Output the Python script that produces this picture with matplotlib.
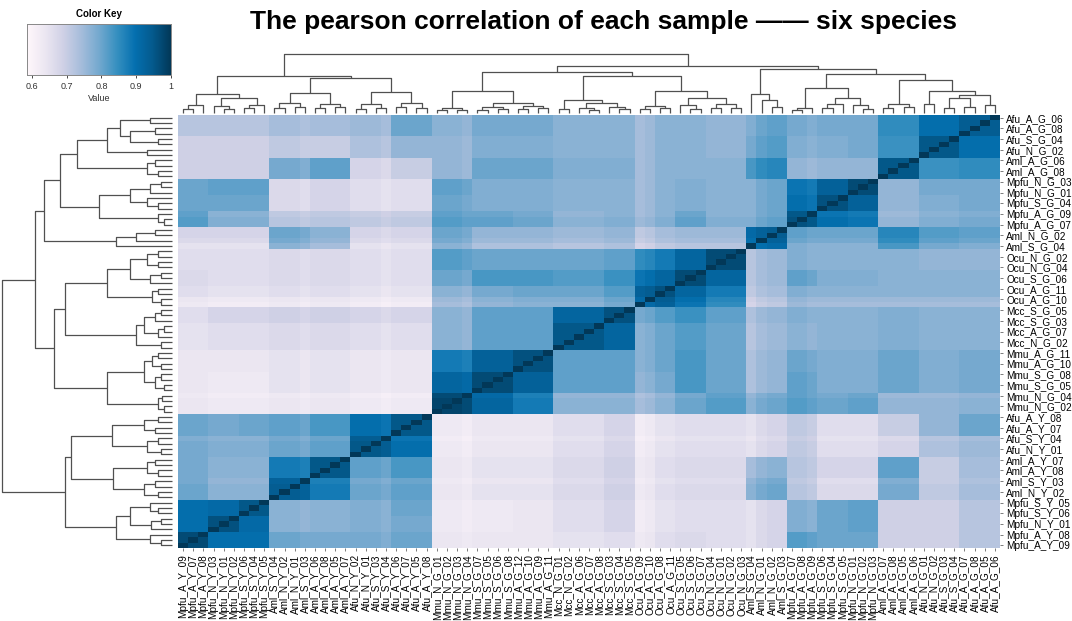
import numpy as np
import matplotlib
matplotlib.use("Agg")
import matplotlib.pyplot as plt

plt.rcParams['font.family'] = ['Liberation Sans', 'DejaVu Sans']

# sample order along the columns (rows use the same order, reversed)
samples = [
    "Mpfu_A_Y_09", "Mpfu_A_Y_07", "Mpfu_A_Y_08", "Mpfu_N_Y_03", "Mpfu_N_Y_01", "Mpfu_N_Y_02",
    "Mpfu_S_Y_06", "Mpfu_S_Y_04", "Mpfu_S_Y_05", "Aml_S_Y_04", "Aml_N_Y_02", "Aml_N_Y_01",
    "Aml_S_Y_03", "Aml_A_Y_06", "Aml_A_Y_08", "Aml_A_Y_05", "Aml_A_Y_07", "Afu_N_Y_02",
    "Afu_N_Y_01", "Afu_S_Y_03", "Afu_S_Y_04", "Afu_A_Y_06", "Afu_A_Y_07", "Afu_A_Y_05",
    "Afu_A_Y_08", "Mmu_N_G_01", "Mmu_N_G_02", "Mmu_N_G_03", "Mmu_N_G_04", "Mmu_S_G_07",
    "Mmu_S_G_05", "Mmu_S_G_06", "Mmu_S_G_08", "Mmu_A_G_12", "Mmu_A_G_10", "Mmu_A_G_09",
    "Mmu_A_G_11", "Mcc_N_G_01", "Mcc_N_G_02", "Mcc_A_G_06", "Mcc_A_G_07", "Mcc_A_G_08",
    "Mcc_S_G_03", "Mcc_S_G_04", "Mcc_S_G_05", "Ocu_A_G_09", "Ocu_A_G_10", "Ocu_A_G_08",
    "Ocu_A_G_11", "Ocu_S_G_05", "Ocu_S_G_06", "Ocu_S_G_07", "Ocu_N_G_04", "Ocu_N_G_01",
    "Ocu_N_G_02", "Ocu_N_G_03", "Aml_S_G_04", "Aml_N_G_01", "Aml_N_G_02", "Aml_S_G_03",
    "Mpfu_A_G_07", "Mpfu_A_G_08", "Mpfu_A_G_09", "Mpfu_S_G_06", "Mpfu_S_G_04", "Mpfu_S_G_05",
    "Mpfu_N_G_01", "Mpfu_N_G_02", "Mpfu_N_G_03", "Aml_A_G_07", "Aml_A_G_08", "Aml_A_G_05",
    "Aml_A_G_06", "Afu_N_G_01", "Afu_N_G_02", "Afu_S_G_03", "Afu_S_G_04", "Afu_A_G_07",
    "Afu_A_G_08", "Afu_A_G_05", "Afu_A_G_06",
]

# sample groups (consecutive in the order above) and their sizes
group_names = ["MpfuY_A", "MpfuY_N", "MpfuY_S", "AmlY_SN", "AmlY_A", "AfuY_NS", "AfuY_A",
               "Mmu_N", "Mmu_S", "Mmu_A", "Mcc_NA", "Mcc_S", "Ocu_A", "Ocu_S", "Ocu_N",
               "AmlG_SN", "MpfuG_A", "MpfuG_S", "MpfuG_N", "AmlG_A", "AfuG_NS", "AfuG_A"]
group_sizes = [3, 3, 3, 4, 4, 4, 4, 4, 4, 4, 5, 3, 4, 3, 4, 4, 3, 3, 3, 4, 4, 4]

# estimated mean correlation between groups (upper triangle, row i gives j = i..21)
block_upper = [
    [.97, .90, .90, .80, .79, .79, .80, .64, .64, .64, .65, .66, .66, .67, .66, .68, .82, .80, .80, .69, .69, .72],
    [.96, .91, .77, .77, .78, .79, .63, .63, .64, .66, .68, .65, .66, .66, .68, .78, .80, .81, .69, .69, .72],
    [.95, .77, .77, .78, .80, .63, .63, .64, .66, .68, .65, .66, .66, .68, .78, .80, .81, .69, .69, .72],
    [.94, .88, .80, .81, .64, .65, .65, .67, .69, .66, .67, .67, .80, .72, .67, .67, .79, .71, .74],
    [.95, .81, .83, .64, .65, .65, .67, .69, .66, .67, .67, .77, .72, .68, .68, .81, .70, .74],
    [.95, .90, .63, .64, .64, .66, .68, .65, .66, .66, .68, .71, .66, .66, .68, .73, .75],
    [.95, .63, .64, .64, .66, .68, .65, .66, .66, .68, .71, .66, .66, .70, .76, .80],
    [.98, .92, .88, .77, .77, .77, .80, .82, .80, .82, .80, .81, .76, .76, .77],
    [.97, .93, .81, .81, .79, .83, .80, .76, .81, .78, .78, .80, .78, .79],
    [.96, .81, .81, .80, .83, .80, .76, .80, .78, .78, .80, .78, .79],
    [.95, .92, .80, .82, .80, .75, .77, .77, .77, .78, .77, .77],
    [.96, .82, .84, .81, .76, .78, .77, .77, .78, .77, .77],
    [.96, .92, .88, .74, .78, .77, .77, .77, .77, .77],
    [.97, .92, .75, .81, .78, .78, .77, .77, .77],
    [.97, .75, .78, .77, .77, .77, .76, .76],
    [.94, .81, .80, .80, .86, .82, .81],
    [.96, .90, .89, .76, .78, .79],
    [.96, .93, .76, .78, .79],
    [.97, .76, .79, .79],
    [.95, .84, .85],
    [.95, .90],
    [.94],
]

# per-sample lightening (streaky samples)
sample_shift = np.zeros(81)
sample_shift[[45, 46, 56, 57, 20, 12, 62, 28]] = [.03, .02, .03, .01, .01, .01, .01, .01]

# clustering tree: [height, left, right]; leaves are sample indices
mpfu_y = [20, [8, [4, 0, 1], 2], [15, [7.5, 3, [4, 4, 5]], [8, [5, 6, 7], 8]]]
aml_y = [21, [10, [5, 9, 10], [6, 11, 12]], [9, [5, 13, 14], [6, 15, 16]]]
afu_y = [21.5, [9, [4, 17, 18], [5, 19, 20]], [10, [6, 21, 22], [5, 23, 24]]]
mmu_g = [23, [5, [3, 25, 26], [3.5, 27, 28]], [10, [6, [3, 29, 30], [4, 31, 32]], [7, [4, 33, 34], [5, 35, 36]]]]
mcc_g = [13, [4, 37, 38], [10, [5, 39, [3, 40, 41]], [6, 42, [4, 43, 44]]]]
ocu_g = [23, [7, [4, 45, 46], [5, 47, 48]], [15, [8, 49, [4, 50, 51]], [9, [5, 52, 53], [5, 54, 55]]]]
aml_g_sn = [20, 56, [13, 57, [6, 58, 59]]]
mpfu_g = [26, [5, [3, 60, 61], 62], [15, [9, [5, 63, 64], 65], [8, 66, [4, 67, 68]]]]
aml_g_a = [9, [5, 69, 70], [6, 71, 72]]
afu_g = [23, [9, 73, 74], [18.5, [15, [5, 75, 76], [6, 77, 78]], [8, 79, 80]]]
tree = [60.7,
        [38, mpfu_y, [36, aml_y, afu_y]],
        [49, [42, mmu_g, [38, mcc_g, ocu_g]],
             [45.7, aml_g_sn, [40, mpfu_g, [34, aml_g_a, afu_g]]]]]

# ---- build the matrix
n = len(samples)
block = np.zeros((len(group_sizes), len(group_sizes)))
for i, row in enumerate(block_upper):
    for k, v in enumerate(row):
        block[i, i + k] = v
        block[i + k, i] = v
grp = np.repeat(np.arange(len(group_sizes)), group_sizes)
corr = block[grp][:, grp] - sample_shift[:, None] - sample_shift[None, :]
np.fill_diagonal(corr, 1.0)
vmin, vmax = 0.586, 1.0
corr = np.clip(corr, vmin, vmax)

W, H = 1072, 621
fig = plt.figure(figsize=(W / 100, H / 100), dpi=100)

def px(x0, y0, x1, y1):
    return [x0 / W, 1 - y1 / H, (x1 - x0) / W, (y1 - y0) / H]

hm_x0, hm_y0, hm_x1, hm_y1 = 178, 115, 1000, 548
ax = fig.add_axes(px(hm_x0, hm_y0, hm_x1, hm_y1))
ax.imshow(corr[::-1, :], cmap='PuBu', vmin=vmin, vmax=vmax, aspect='auto',
          interpolation='nearest', extent=(0, n, n, 0))
ax.set_xticks(np.arange(n) + 0.5)
ax.set_xticklabels(samples, rotation=90, fontsize=7.2)
rows_lab = np.arange(0, n, 2)
ax.yaxis.tick_right()
ax.set_yticks(rows_lab + 0.5)
ax.set_yticklabels([samples[n - 1 - r] for r in rows_lab], fontsize=7.2)
ax.tick_params(length=2, width=0.6, color='#666666', pad=2.5)
for s in ax.spines.values():
    s.set_visible(False)

line_kw = dict(color='#505050', lw=0.9, solid_capstyle='butt', clip_on=False)

def draw(node, axd, left):
    if isinstance(node, int):
        return node + 0.5, 0.0
    h, a, b = node
    pa, ha = draw(a, axd, left)
    pb, hb = draw(b, axd, left)
    if left:
        axd.plot([ha, h, h, hb], [n - pa, n - pa, n - pb, n - pb], **line_kw)
    else:
        axd.plot([pa, pa, pb, pb], [ha, h, h, hb], **line_kw)
    return (pa + pb) / 2, h

top_h = tree[0]
axt = fig.add_axes(px(hm_x0, 54.3, hm_x1, 113))
draw(tree, axt, False)
axt.set_xlim(0, n)
axt.set_ylim(0, top_h)
axt.axis('off')

axl = fig.add_axes(px(1.7, hm_y0, 172, hm_y1))
draw(tree, axl, True)
axl.set_xlim(top_h, 0)
axl.set_ylim(n, 0)
axl.axis('off')

# color key
axk = fig.add_axes(px(27, 24, 171, 75))
grad = np.linspace(vmin, vmax, 256)[None, :]
axk.imshow(grad, cmap='PuBu', vmin=vmin, vmax=vmax, aspect='auto',
           extent=(vmin, vmax, 0, 1))
axk.set_yticks([])
key_ticks = [0.6, 0.7, 0.8, 0.9, 1.0]
axk.set_xticks(key_ticks)
axk.set_xticklabels(['0.6', '0.7', '0.8', '0.9', '1'], fontsize=6.5, color='#333333')
axk.tick_params(length=2, width=0.5, pad=3)
axk.set_xlabel('Value', fontsize=6.5, labelpad=2, color='#333333')
axk.set_title('Color Key', fontsize=7, fontweight='bold', pad=5)
for s in axk.spines.values():
    s.set_color('#888888')
    s.set_linewidth(0.7)

fig.text(603 / W, 1 - 22 / H, 'The pearson correlation of each sample —— six species',
         fontsize=19, fontweight='bold', ha='center', va='center')

fig.savefig('out.png', dpi=100)
